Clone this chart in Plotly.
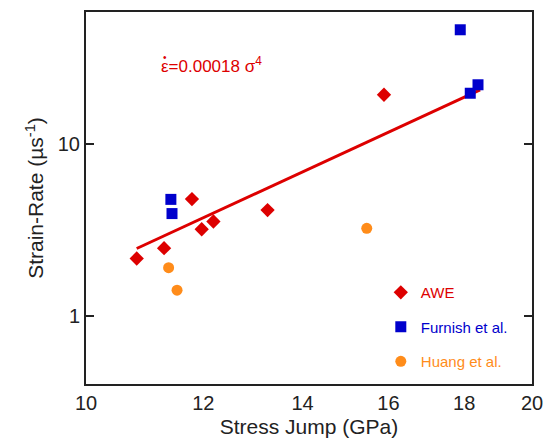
import plotly.graph_objects as go

# AWE data
awe_x = [10.82, 11.29, 11.79, 11.97, 12.19, 13.26, 15.89]
awe_y = [2.16, 2.48, 4.80, 3.20, 3.55, 4.14, 19.5]
# Furnish et al.
fur_x = [11.41, 11.43, 17.89, 18.17, 18.39]
fur_y = [4.78, 3.95, 46.7, 19.9, 22.3]
# Huang et al.
hua_x = [11.37, 11.52, 15.47]
hua_y = [1.91, 1.41, 3.24]
# fit line endpoints: strain rate = 0.00018 sigma^4
fit_x = [10.82, 18.45]
fit_y = [2.47, 20.8]

x_ticks = [10, 12, 14, 16, 18, 20]
y_ticks = [1, 10]

RED = "#dd0000"
BLUE = "#0000cc"
ORANGE = "#ff8c1a"
FONT = "Liberation Sans, Arial"

fig = go.Figure()
fig.add_trace(go.Scatter(x=fit_x, y=fit_y, mode="lines", line=dict(color=RED, width=3),
                         showlegend=False, hoverinfo="skip"))
fig.add_trace(go.Scatter(x=awe_x, y=awe_y, mode="markers", legendgroup="a",
                         name=f"<span style='color:{RED}'>AWE</span>",
                         marker=dict(symbol="diamond", size=11, color=RED)))
fig.add_trace(go.Scatter(x=fur_x, y=fur_y, mode="markers", legendgroup="b",
                         name=f"<span style='color:{BLUE}'>Furnish et al.</span>",
                         marker=dict(symbol="square", size=11, color=BLUE)))
fig.add_trace(go.Scatter(x=hua_x, y=hua_y, mode="markers", legendgroup="c",
                         name=f"<span style='color:{ORANGE}'>Huang et al.</span>",
                         marker=dict(symbol="circle", size=11, color=ORANGE)))

fig.add_annotation(x=0.163, y=0.857, xref="paper", yref="paper", showarrow=False,
                   xanchor="left", yanchor="middle",
                   text="\u03b5=0.00018 \u03c3<sup>4</sup>",
                   font=dict(family=FONT, size=17, color=RED))
# dot over epsilon
fig.add_annotation(x=0.178, y=0.878, xref="paper", yref="paper", showarrow=False,
                   xanchor="center", yanchor="middle", text="\u2022",
                   font=dict(family=FONT, size=10, color=RED))

axis_common = dict(showline=True, linecolor="#222", linewidth=2, mirror="ticks",
                   showgrid=False, zeroline=False, automargin=False,
                   tickfont=dict(family=FONT, size=20, color="#222"))

fig.update_xaxes(type="log", range=[1, 1.30103], tickvals=x_ticks,
                 ticktext=[str(v) for v in x_ticks], ticks="",
                 title=dict(text="Stress Jump (GPa)", standoff=6,
                            font=dict(family=FONT, size=21, color="#222")),
                 **axis_common)
fig.update_yaxes(type="log", range=[-0.398, 1.773], tickvals=y_ticks,
                 ticktext=[str(v) for v in y_ticks], ticks="inside", ticklen=8, tickwidth=1.5,
                 tickcolor="#222",
                 title=dict(text="Strain-Rate (\u00b5s<sup>-1</sup>)", standoff=8,
                            font=dict(family=FONT, size=21, color="#222")),
                 **axis_common)

fig.update_layout(
    width=551, height=440,
    margin=dict(l=86, r=19, t=12, b=56),
    plot_bgcolor="white", paper_bgcolor="white",
    legend=dict(x=0.661, y=0.29, xanchor="left", yanchor="top",
                traceorder="grouped", tracegroupgap=12,
                bgcolor="rgba(0,0,0,0)",
                font=dict(family=FONT, size=15)),
)
fig.write_html("out.html")
